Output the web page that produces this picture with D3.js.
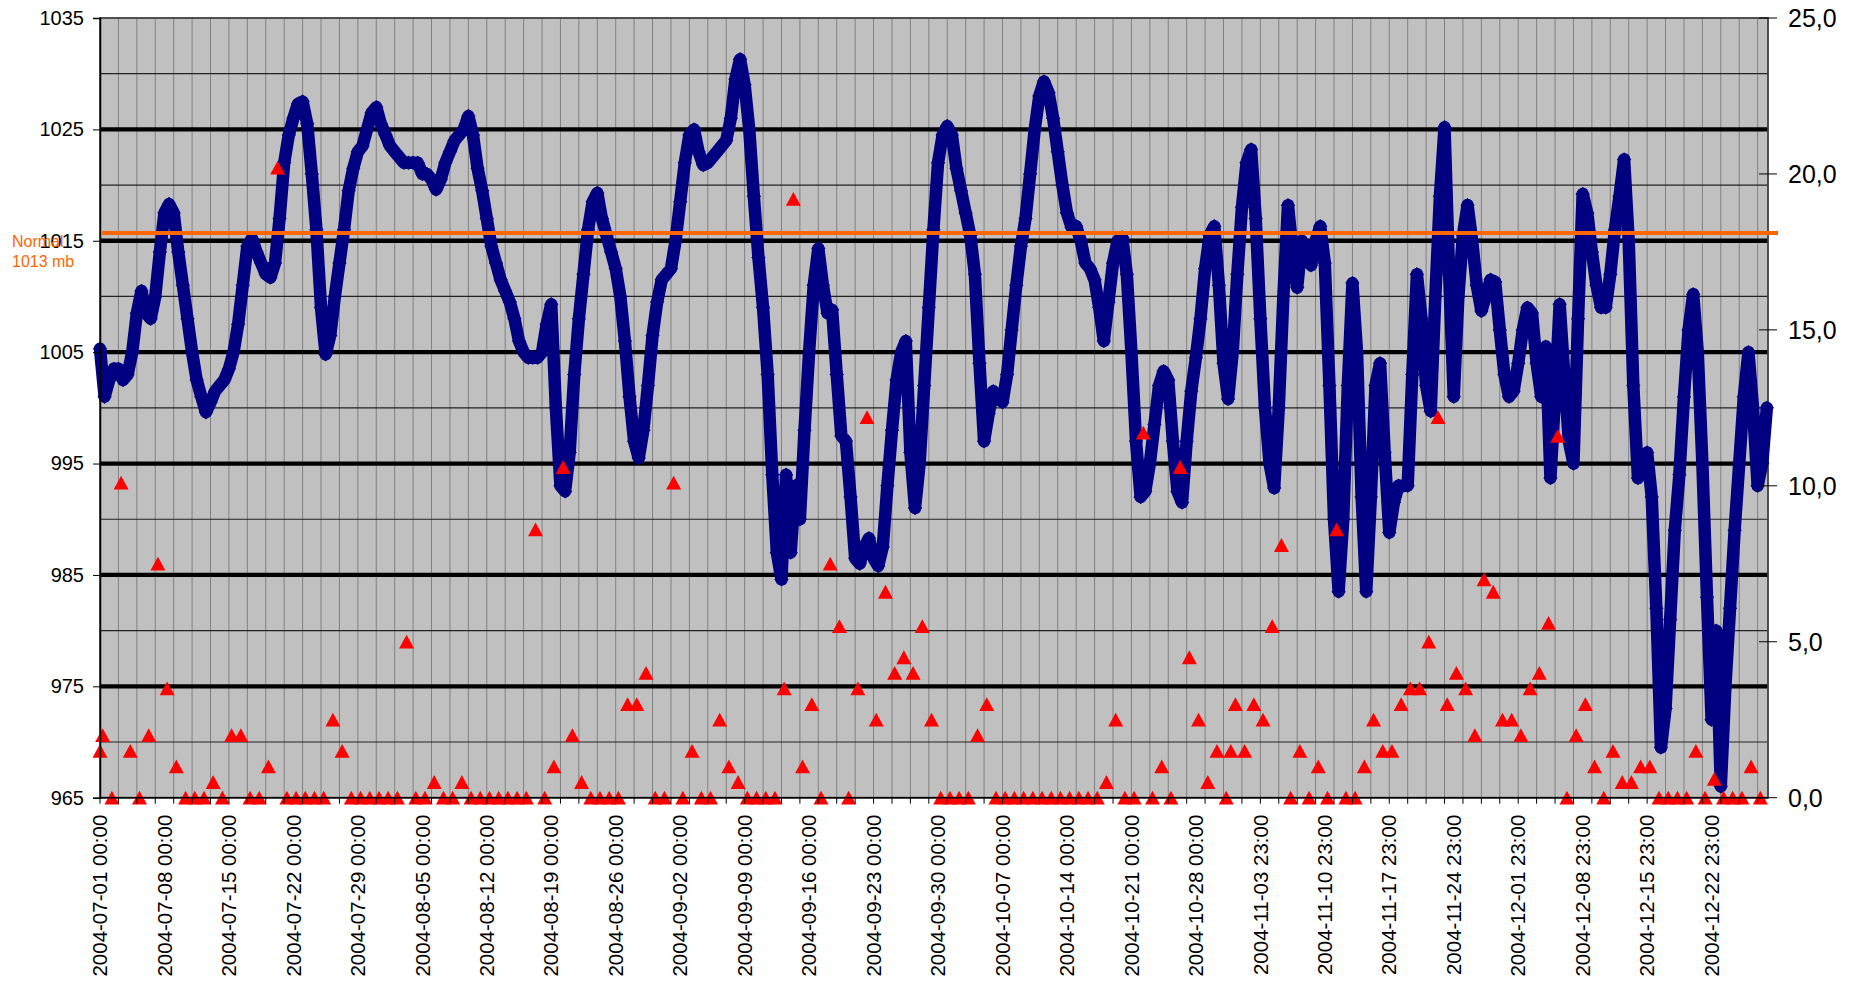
<!DOCTYPE html>
<html>
<head>
<meta charset="utf-8">
<script src="https://cdn.jsdelivr.net/npm/d3@7"></script>
<style>
  html, body { margin: 0; padding: 0; background: #fff; }
  svg { display: block; }
  text { font-family: 'Liberation Sans', Arial, sans-serif; }
</style>
</head>
<body>
<svg id="chart" width="1863" height="983"></svg>
<script>
// air pressure (mb), one reading every 12 hours from 2004-07-01 00:00
const pressure = [
	1005.3, 1001, 1002.5, 1003.5, 1003.5, 1002.5, 1003, 1005, 1008.5, 1010.5,
	1008.5, 1008, 1010, 1014, 1017.5, 1018.3, 1017.5, 1014, 1011, 1008,
	1005, 1002.5, 1001, 999.6, 1000.5, 1001.5, 1002, 1002.5, 1003.5, 1005,
	1007.5, 1011, 1014.5, 1015.2, 1014, 1013, 1012, 1011.7, 1013, 1017,
	1022, 1024.5, 1026, 1027.3, 1027.5, 1025.5, 1021, 1016, 1009, 1004.8,
	1006.5, 1010, 1013, 1016, 1019.5, 1021.5, 1023, 1023.5, 1025, 1026.5,
	1027,
	1025.5, 1024.5, 1023.5, 1023, 1022.5, 1022, 1022, 1022, 1022, 1021,
	1021, 1020.5, 1019.6, 1020.5, 1022, 1023, 1024, 1024.5, 1025, 1026.2,
	1024.5, 1021.5, 1019.5, 1017, 1014.5, 1013, 1011.5, 1010.5, 1009.5, 1008,
	1006, 1005, 1004.5, 1004.5, 1004.5, 1005, 1007.5, 1009.3, 1000, 993,
	992.5, 996, 1003, 1008, 1012, 1016, 1018.5, 1019.3, 1017, 1015.5,
	1014, 1012.5, 1010, 1006, 1001, 997, 995.5, 998, 1002, 1006.5,
	1009.5, 1011.5, 1012, 1012.5, 1015, 1018.5, 1022, 1024.5, 1025, 1023,
	1021.8, 1022, 1022.5, 1023, 1023.5, 1024, 1026, 1029.5, 1031.3, 1029,
	1025, 1019, 1013.5, 1009, 1003, 994, 987, 984.6, 994, 987,
	993, 990, 998, 1005, 1011, 1014.3, 1011, 1008.5, 1008.8, 1003,
	997.5, 997, 992, 986.5, 986, 987.5, 988.3, 986.5, 985.8, 987.5,
	993, 998, 1002.5, 1005, 1006, 996, 991, 995, 1002, 1009,
	1016, 1022, 1024.5, 1025.3, 1024.5, 1021.5, 1019.5, 1017.5, 1015.5, 1012,
	1004, 997, 999.5, 1001.5, 1001, 1000.5, 1003, 1007, 1011, 1014.5,
	1017, 1021, 1025, 1028, 1029.3, 1028.3, 1026, 1023, 1020, 1017.5,
	1016.2, 1016.3, 1015, 1013, 1012.5, 1011.5, 1009, 1006, 1009.5, 1013,
	1015, 1015.3, 1012, 1005, 997, 992, 992.5, 995, 998.5, 1002,
	1003.3, 1002.5, 997, 992.5, 991.5, 997, 1001.5, 1004.5, 1008, 1012.5,
	1015.5, 1016.3, 1011, 1004, 1000.8, 1005, 1012, 1018, 1022, 1023.2,
	1017, 1008, 1000, 995, 992.8, 1000, 1010, 1018.2, 1014, 1010.8,
	1015, 1014, 1012.8, 1015, 1016.3, 1013, 1002, 990, 983.5, 990,
	1002, 1011.2, 1005, 992, 983.5, 992, 1002, 1004, 996, 988.8,
	991.5, 993, 993, 993, 1003, 1012, 1008, 1002, 999.7, 1010,
	1019, 1025.2, 1012, 1001, 1010, 1015.5, 1018.2, 1015, 1011, 1008.7,
	1010, 1011.5, 1011.3, 1007, 1003, 1001, 1001.5, 1004, 1007, 1009,
	1008.5, 1004, 1001, 1005.5, 993.7, 1001, 1009.3, 1003, 997, 995,
	1008, 1019.2, 1017.5, 1014, 1011, 1009, 1009, 1012, 1016, 1019,
	1022.3, 1015, 1002, 993.7, 995, 996, 992, 982, 969.5, 973,
	981, 989, 994, 1001, 1007, 1010.2, 1005, 995, 983, 972,
	980, 966, 975, 982, 989, 995, 1001, 1005, 1000, 993,
	995, 1000
]
const pressureStep = 12

// precipitation (mm), one value per day read at 07:00, from 2004-07-01
const rain = [
	2.0, 0, 10.1, 1.5, 0, 2.0, 7.5, 3.5, 1.0, 0,
	0, 0, 0.5, 0, 2.0, 2.0, 0, 0, 1.0, 20.2,
	0, 0, 0, 0, 0, 2.5, 1.5, 0, 0, 0,
	0, 0, 0, 5.0, 0, 0, 0.5, 0, 0, 0.5,
	0, 0, 0, 0, 0, 0, 0, 8.6, 0, 1.0,
	10.6, 2.0, 0.5, 0, 0, 0, 0, 3.0, 3.0, 4.0,
	0, 0, 10.1, 0, 1.5, 0, 0, 2.5, 1.0, 0.5,
	0, 0, 0, 0, 3.5, 19.2, 1.0, 3.0, 0, 7.5,
	5.5, 0, 3.5, 12.2, 2.5, 6.6, 4.0, 4.5, 4.0, 5.5,
	2.5, 0, 0, 0, 0, 2.0, 3.0, 0, 0, 0,
	0, 0, 0, 0, 0, 0, 0, 0, 0, 0.5,
	2.5, 0, 0, 11.7, 0, 1.0, 0, 10.6, 4.5, 2.5,
	0.5, 1.5, 0, 3.0, 1.5, 3.0, 2.5, 5.5, 8.1, 0,
	1.5, 0, 1.0, 0, 8.6, 0, 0, 1.0, 2.5, 1.5,
	1.5, 3.0, 3.5, 3.5, 5.0, 12.2, 3.0, 4.0, 3.5, 2.0,
	7.0, 6.6, 2.5, 2.5, 2.0, 3.5, 4.0, 5.6, 11.6, 0,
	2.0, 3.0, 1.0, 0, 1.5, 0.5, 0.5, 1.0, 1.0, 0,
	0, 0, 0, 1.5, 0, 0.6, 0, 0, 0, 1.0,
	0
]
const rainHour = 7
// readings that fall outside the daily 07:00 slot
const rainExtra = [
	{hour: 0, mm: 1.5},
	{hour: 24 * 122 + 19, mm: 1.5},
]

const weekLabels = [
	'2004-07-01 00:00', '2004-07-08 00:00', '2004-07-15 00:00', '2004-07-22 00:00',
	'2004-07-29 00:00', '2004-08-05 00:00', '2004-08-12 00:00', '2004-08-19 00:00',
	'2004-08-26 00:00', '2004-09-02 00:00', '2004-09-09 00:00', '2004-09-16 00:00',
	'2004-09-23 00:00', '2004-09-30 00:00', '2004-10-07 00:00', '2004-10-14 00:00',
	'2004-10-21 00:00', '2004-10-28 00:00', '2004-11-03 23:00', '2004-11-10 23:00',
	'2004-11-17 23:00', '2004-11-24 23:00', '2004-12-01 23:00', '2004-12-08 23:00',
	'2004-12-15 23:00', '2004-12-22 23:00',
]
const pressureTicks = [965, 975, 985, 995, 1005, 1015, 1025, 1035]
const pressureMinor = [970, 980, 990, 1000, 1010, 1020, 1030]
const rainTicks = [0, 5, 10, 15, 20, 25]
const normalLevel = 1015.7 // where the "Normal 1013 mb" line sits on the left axis

const totalHours = 4347
const labelEvery = 168
const gridEvery = 48

const margin = {left: 100, right: 95, top: 18, bottom: 185.3}
const width = 1863, height = 983
const plotW = width - margin.left - margin.right
const plotH = height - margin.top - margin.bottom

const svg = d3.select('#chart')
const g = svg.append('g').attr('transform', `translate(${margin.left},${margin.top})`)

const x = d3.scaleLinear().domain([0, totalHours]).range([0, plotW])
const y = d3.scaleLinear().domain([965, 1035]).range([plotH, 0])
const y2 = d3.scaleLinear().domain([0, 25]).range([plotH, 0])

// plot background
g.append('rect').attr('width', plotW).attr('height', plotH).attr('fill', '#c0c0c0')

// vertical gridlines every 48 h
g.append('g')
	.selectAll('line')
	.data(d3.range(gridEvery, totalHours, gridEvery))
	.join('line')
	.attr('x1', d => x(d)).attr('x2', d => x(d))
	.attr('y1', 0).attr('y2', plotH)
	.attr('stroke', '#808080').attr('stroke-width', 1)

// horizontal gridlines: thin at the 5s, thick at labelled values
g.append('g')
	.selectAll('line')
	.data(pressureMinor)
	.join('line')
	.attr('x1', 0).attr('x2', plotW)
	.attr('y1', d => y(d)).attr('y2', d => y(d))
	.attr('stroke', '#222').attr('stroke-width', 1.2)

g.append('g')
	.selectAll('line')
	.data(pressureTicks.filter(d => d > 965 && d < 1035))
	.join('line')
	.attr('x1', 0).attr('x2', plotW)
	.attr('y1', d => y(d)).attr('y2', d => y(d))
	.attr('stroke', '#000').attr('stroke-width', 4.3)

// plot border
g.append('rect').attr('width', plotW).attr('height', plotH)
	.attr('fill', 'none').attr('stroke', '#404040').attr('stroke-width', 1.8)

// pressure series: dense chain of navy diamonds
const pressurePts = pressure.map((v, i) => ({h: i * pressureStep, v}))
const line = d3.line().x(d => x(d.h)).y(d => y(d.v))
g.append('path')
	.datum(pressurePts)
	.attr('d', line)
	.attr('fill', 'none')
	.attr('stroke', '#000080')
	.attr('stroke-width', 12.5)
	.attr('stroke-linejoin', 'round')
	.attr('stroke-linecap', 'round')

const diamond = 'M0,-7.2L7.2,0L0,7.2L-7.2,0Z'
g.append('g')
	.selectAll('path')
	.data(pressurePts)
	.join('path')
	.attr('d', diamond)
	.attr('transform', d => `translate(${x(d.h)},${y(d.v)})`)
	.attr('fill', '#000080')

// precipitation: red triangles on the right axis
const rainPts = rain
	.map((mm, k) => ({hour: k * 24 + rainHour, mm}))
	.concat(rainExtra)
	.filter(d => d.mm != null)
const triangle = 'M0,-7L7.5,6.8L-7.5,6.8Z'
g.append('g')
	.selectAll('path')
	.data(rainPts)
	.join('path')
	.attr('d', triangle)
	.attr('transform', d => `translate(${x(d.hour)},${y2(d.mm)})`)
	.attr('fill', '#ff0000')

// left axis
const leftAxis = g.append('g').call(
	d3.axisLeft(y).tickValues(pressureTicks).tickSize(7).tickPadding(9).tickFormat(d3.format('d')),
)
leftAxis.select('.domain').attr('stroke', '#000').attr('stroke-width', 1.5)
leftAxis.selectAll('text').attr('font-size', 20).attr('fill', '#000')
	.style('font-family', "'Liberation Sans', Arial, sans-serif")

// right axis (ticks cross the border)
const rightAxis = g.append('g').attr('transform', `translate(${plotW},0)`)
rightAxis.selectAll('line')
	.data(rainTicks)
	.join('line')
	.attr('x1', -9).attr('x2', 9)
	.attr('y1', d => y2(d)).attr('y2', d => y2(d))
	.attr('stroke', '#000').attr('stroke-width', 1)
rightAxis.selectAll('text')
	.data(rainTicks)
	.join('text')
	.attr('x', 20)
	.attr('y', d => y2(d))
	.attr('dy', '0.36em')
	.attr('font-size', 25)
	.text(d => d3.format('.1f')(d).replace('.', ','))

// bottom axis
g.append('line')
	.attr('x1', 0).attr('x2', plotW).attr('y1', plotH).attr('y2', plotH)
	.attr('stroke', '#000').attr('stroke-width', 1.5)
g.append('g')
	.selectAll('line')
	.data(d3.range(0, totalHours, gridEvery))
	.join('line')
	.attr('x1', d => x(d)).attr('x2', d => x(d))
	.attr('y1', plotH).attr('y2', plotH + 6)
	.attr('stroke', '#000').attr('stroke-width', 1)
g.append('g')
	.selectAll('text')
	.data(weekLabels)
	.join('text')
	.attr('transform', (d, i) => `translate(${x(i * labelEvery)},${plotH + 17}) rotate(-90)`)
	.attr('text-anchor', 'end')
	.attr('dy', '0.35em')
	.attr('font-size', 20.5)
	.text(d => d)

// the "normal" reference line and its label
svg.append('line')
	.attr('x1', margin.left + 2).attr('x2', margin.left + plotW + 10)
	.attr('y1', margin.top + y(normalLevel)).attr('y2', margin.top + y(normalLevel))
	.attr('stroke', '#ff6600').attr('stroke-width', 4)
const normalText = svg.append('text').attr('fill', '#ff6600').attr('font-size', 16)
normalText.append('tspan').attr('x', 12).attr('y', margin.top + y(normalLevel) + 14).text('Normal')
normalText.append('tspan').attr('x', 12).attr('y', margin.top + y(normalLevel) + 34).text('1013 mb')
</script>
</body>
</html>
